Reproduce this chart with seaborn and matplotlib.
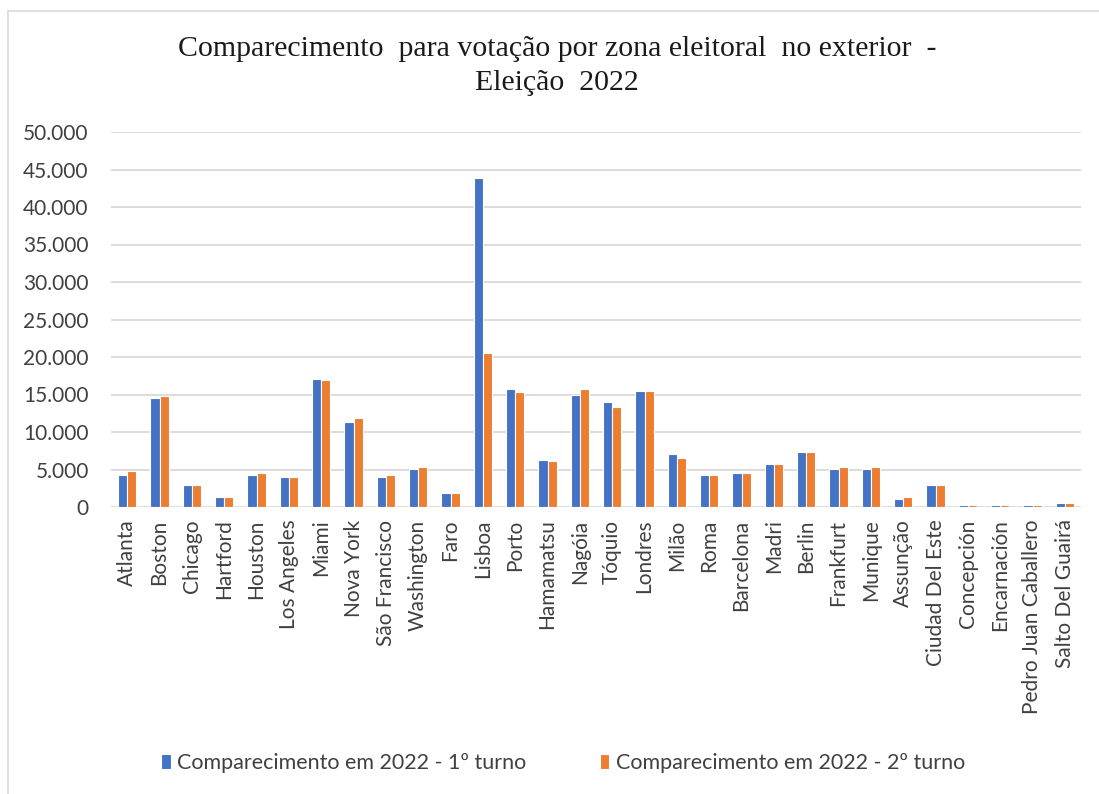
import matplotlib
matplotlib.use("Agg")
import matplotlib.pyplot as plt
from matplotlib.lines import Line2D
from matplotlib.ticker import FuncFormatter
import seaborn as sns
import pandas as pd

cidades = ["Atlanta", "Boston", "Chicago", "Hartford", "Houston", "Los Angeles",
           "Miami", "Nova York", "São Francisco", "Washington", "Faro", "Lisboa",
           "Porto", "Hamamatsu", "Nagóia", "Tóquio", "Londres", "Milão", "Roma",
           "Barcelona", "Madri", "Berlin", "Frankfurt", "Munique", "Assunção",
           "Ciudad Del Este", "Concepción", "Encarnación", "Pedro Juan Caballero",
           "Salto Del Guairá"]
turno1 = [4250, 14500, 2900, 1350, 4250, 3950, 17100, 11300, 3950, 5050, 1900,
          43900, 15800, 6300, 15000, 14000, 15500, 7100, 4250, 4500, 5800, 7400,
          5050, 5050, 1100, 2900, 300, 300, 300, 600]
turno2 = [4800, 14800, 2900, 1350, 4500, 3950, 16900, 11900, 4250, 5300, 1900,
          20500, 15300, 6100, 15800, 13400, 15500, 6600, 4250, 4500, 5800, 7400,
          5300, 5300, 1350, 2900, 300, 300, 300, 600]
serie1 = "Comparecimento em 2022 - 1º turno"
serie2 = "Comparecimento em 2022 - 2º turno"
titulo = "Comparecimento  para votação por zona eleitoral  no exterior  -\nEleição  2022"

df = pd.DataFrame({
    "cidade": cidades * 2,
    "valor": turno1 + turno2,
    "serie": [serie1] * len(cidades) + [serie2] * len(cidades),
})

sns.set_theme(style="white")
plt.rcParams["font.family"] = ["Lato", "DejaVu Sans"]

W, H = 1099, 794
fig = plt.figure(figsize=(W / 100, H / 100), dpi=100)
ax = fig.add_axes([111 / W, (H - 507) / H, 970 / W, 375 / H])

sns.barplot(data=df, x="cidade", y="valor", hue="serie", ax=ax,
            palette=["#4472C4", "#ED7D31"], width=0.56,
            edgecolor="white", linewidth=0.8, saturation=1)

ax.set_ylim(0, 50000)
ax.set_xlim(-0.5, len(cidades) - 0.5)
ax.set_yticks(range(0, 50001, 5000))
ax.yaxis.set_major_formatter(FuncFormatter(lambda v, p: f"{int(v):,}".replace(",", ".")))
ax.grid(axis="y", color="#D9D9D9", linewidth=1.3)
ax.set_axisbelow(True)
for s in ax.spines.values():
    s.set_visible(False)
ax.set_xlabel("")
ax.set_ylabel("")
ax.tick_params(axis="y", length=0, pad=16, labelsize=15, labelcolor="#404040")
ax.tick_params(axis="x", length=0, pad=9, labelsize=15, labelcolor="#404040",
               labelrotation=90)

handles, labels = ax.get_legend_handles_labels()
ax.get_legend().remove()
fig.legend(handles, labels, loc="center", bbox_to_anchor=(563 / W, 1 - 763 / H),
           ncol=2, frameon=False, fontsize=15.5, handlelength=0.45,
           handleheight=0.75, handletextpad=0.3, columnspacing=3.4,
           labelcolor="#404040")

fig.text(557 / W, 1 - 66 / H, titulo, ha="center", va="center",
         family=["Liberation Serif"], fontsize=21.5, color="#1a1a1a",
         linespacing=1.42)

fig.add_artist(Line2D([7.5 / W, 7.5 / W], [0, 1 - 11 / H], transform=fig.transFigure,
                      color="#D9D9D9", linewidth=1.2))
fig.add_artist(Line2D([7.5 / W, 1], [1 - 11 / H, 1 - 11 / H], transform=fig.transFigure,
                      color="#D9D9D9", linewidth=1.2))

fig.savefig("out.png", dpi=100, facecolor="white")
